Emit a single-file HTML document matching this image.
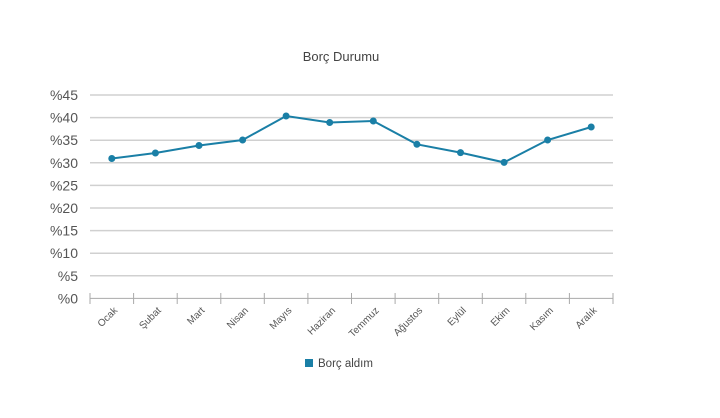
<!DOCTYPE html>
<html><head><meta charset="utf-8"><style>
html,body{margin:0;padding:0;background:#fff;}
svg{display:block;font-family:"Liberation Sans",sans-serif;}
</style></head><body>
<svg width="720" height="418" viewBox="0 0 720 418" xmlns="http://www.w3.org/2000/svg">
<rect width="720" height="418" fill="#fff"/>
<text x="341" y="61" text-anchor="middle" font-size="13" fill="#444">Borç Durumu</text>
<g stroke="#d0d0d0" stroke-width="1.5">
<line x1="90" x2="613" y1="95" y2="95"/>
<line x1="90" x2="613" y1="117.6" y2="117.6"/>
<line x1="90" x2="613" y1="140.2" y2="140.2"/>
<line x1="90" x2="613" y1="162.8" y2="162.8"/>
<line x1="90" x2="613" y1="185.4" y2="185.4"/>
<line x1="90" x2="613" y1="208" y2="208"/>
<line x1="90" x2="613" y1="230.6" y2="230.6"/>
<line x1="90" x2="613" y1="253.2" y2="253.2"/>
<line x1="90" x2="613" y1="275.8" y2="275.8"/>
</g>
<g stroke="#aaa" stroke-width="1">
<line x1="90" x2="613" y1="298.4" y2="298.4"/>
<line x1="90" x2="90" y1="293" y2="304"/><line x1="133.6" x2="133.6" y1="293" y2="304"/><line x1="177.2" x2="177.2" y1="293" y2="304"/><line x1="220.8" x2="220.8" y1="293" y2="304"/><line x1="264.3" x2="264.3" y1="293" y2="304"/><line x1="307.9" x2="307.9" y1="293" y2="304"/><line x1="351.5" x2="351.5" y1="293" y2="304"/><line x1="395.1" x2="395.1" y1="293" y2="304"/><line x1="438.7" x2="438.7" y1="293" y2="304"/><line x1="482.3" x2="482.3" y1="293" y2="304"/><line x1="525.8" x2="525.8" y1="293" y2="304"/><line x1="569.4" x2="569.4" y1="293" y2="304"/><line x1="613" x2="613" y1="293" y2="304"/>
</g>
<g font-size="14" fill="#555" text-anchor="end">
<text x="78" y="100">%45</text><text x="78" y="122.6">%40</text><text x="78" y="145.2">%35</text><text x="78" y="167.8">%30</text><text x="78" y="190.4">%25</text><text x="78" y="213">%20</text><text x="78" y="235.6">%15</text><text x="78" y="258.2">%10</text><text x="78" y="280.8">%5</text><text x="78" y="303.4">%0</text>
</g>
<g font-size="10" fill="#555" text-anchor="end">
<text transform="translate(118,311) rotate(-45)">Ocak</text>
<text transform="translate(161.6,311) rotate(-45)">Şubat</text>
<text transform="translate(205.2,311) rotate(-45)">Mart</text>
<text transform="translate(248.8,311) rotate(-45)">Nisan</text>
<text transform="translate(292.3,311) rotate(-45)">Mayıs</text>
<text transform="translate(335.9,311) rotate(-45)">Haziran</text>
<text transform="translate(379.5,311) rotate(-45)">Temmuz</text>
<text transform="translate(423.1,311) rotate(-45)">Ağustos</text>
<text transform="translate(466.7,311) rotate(-45)">Eylül</text>
<text transform="translate(510.3,311) rotate(-45)">Ekim</text>
<text transform="translate(553.8,311) rotate(-45)">Kasım</text>
<text transform="translate(597.4,311) rotate(-45)">Aralık</text>
</g>
<polyline fill="none" stroke="#1a7fa6" stroke-width="2" points="111.8,158.5 155.4,153 199,145.5 242.6,140 286.1,116 329.7,122.5 373.3,121 416.9,144.3 460.5,152.6 504.1,162.4 547.6,140 591.2,127"/>
<g fill="#1a7fa6">
<circle cx="111.8" cy="158.5" r="3.5"/><circle cx="155.4" cy="153" r="3.5"/><circle cx="199" cy="145.5" r="3.5"/><circle cx="242.6" cy="140" r="3.5"/><circle cx="286.1" cy="116" r="3.5"/><circle cx="329.7" cy="122.5" r="3.5"/><circle cx="373.3" cy="121" r="3.5"/><circle cx="416.9" cy="144.3" r="3.5"/><circle cx="460.5" cy="152.6" r="3.5"/><circle cx="504.1" cy="162.4" r="3.5"/><circle cx="547.6" cy="140" r="3.5"/><circle cx="591.2" cy="127" r="3.5"/>
</g>
<rect x="305" y="359" width="8" height="8" fill="#1a7fa6"/>
<text x="318" y="367" font-size="11.5" fill="#444">Borç aldım</text>
</svg>
</body></html>
